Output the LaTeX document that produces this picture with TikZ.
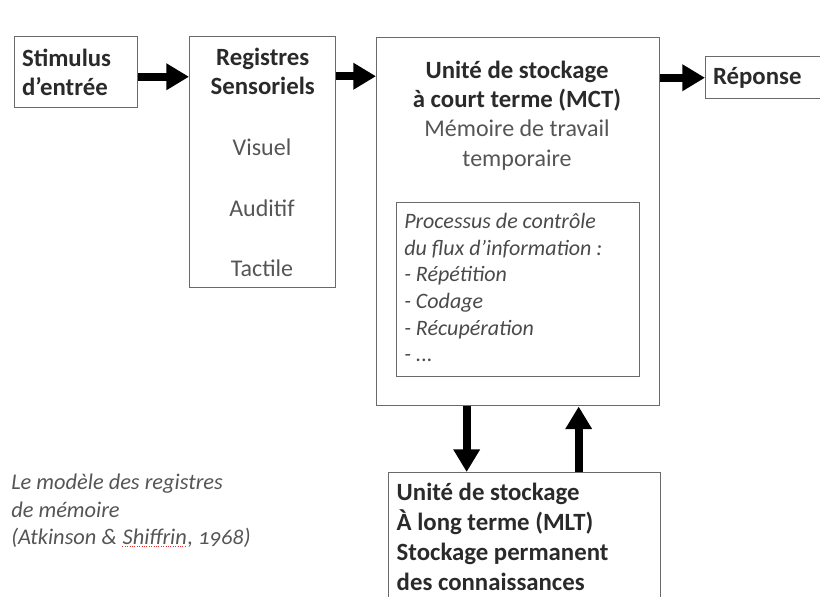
\documentclass[tikz,border=0pt]{standalone}
\usepackage{fontspec}
\setmainfont{Carlito}
\usetikzlibrary{arrows.meta,positioning}
\definecolor{ink}{HTML}{2A2A2A}
\definecolor{soft}{HTML}{555555}
\definecolor{boxgray}{HTML}{6A6A6A}
\definecolor{spell}{HTML}{E03030}
\newcommand{\squiggle}[1]{\tikz[baseline=(w.base)]{\node[inner sep=0pt] (w) {#1}; \draw[draw=spell, densely dotted, line width=0.8pt] ([yshift=-1.5pt]w.south west) -- ([yshift=-1.5pt]w.south east);}}

\tikzset{
  box/.style={draw=boxgray, line width=1.1pt, inner sep=0pt, anchor=north west},
  head/.style={font=\bfseries\fontsize{18.6}{22}\selectfont, text=ink, align=center},
  plain/.style={font=\fontsize{18}{22.5}\selectfont, text=soft, align=center},
  ital/.style={font=\itshape\fontsize{16.5}{20}\selectfont, text=ink!85, align=flush left, inner sep=0pt},
  flow/.style={line width=6pt, -{Triangle[length=17pt,width=19pt]}},
}

\begin{document}
\begin{tikzpicture}[x=0.75pt,y=-0.75pt]
  \clip (0,0) rectangle (820,596);
  % boites
  \node[box, head, align=flush left, text width=81pt, inner xsep=5.5pt, minimum height=53.25pt] (stim) at (14,36) {Stimulus\\d'entrée};
  \node[box, minimum width=109.5pt, minimum height=188.25pt] (reg) at (189,36) {};
  \node[head, anchor=north] (regt) at ([yshift=-5.5pt]reg.north) {Registres\\Sensoriels};
  \foreach \s/\y in {Visuel/147, Auditif/208, Tactile/268}
    \node[plain] (\s) at (262,\y) {\s};
  \node[box, minimum width=212.25pt, minimum height=276pt] (mct) at (376,37) {};
  \node[head] (mctt) at (517,86) {Unité de stockage\\à court terme (MCT)};
  \node[plain] (mctr) at (517,145) {Mémoire de travail\\temporaire};
  \node[box, minimum width=182.25pt, minimum height=130.5pt] (proc) at (396,202) {};
  \node[ital, anchor=north west] (proct) at (404,213) {Processus de contrôle\\du flux d'information :\\- Répétition\\- Codage\\- Récupération\\- ...};
  \node[box, head, align=flush left, text width=86pt, inner xsep=5.5pt, minimum height=31.5pt] (rep) at (705,56) {Réponse};
  \node[box, head, align=flush left, text width=192pt, inner xsep=6pt, minimum height=96pt, font=\bfseries\fontsize{18.6}{22.5}\selectfont] (mlt) at (388,472) {Unité de stockage\\À long terme (MLT)\\Stockage permanent\\des connaissances};
  \node[font=\itshape\fontsize{16.8}{20.5}\selectfont, text=soft, align=flush left, anchor=north west, inner sep=0pt] (legende) at (11,474) {Le modèle des registres\\de mémoire\\(Atkinson \& \squiggle{Shiffrin}, {\addfontfeatures{Numbers=OldStyle}1968})};
  % fleches
  \coordinate (dn) at ([xshift=68pt]mct.south west);
  \coordinate (up) at ([xshift=152pt]mct.south west);
  \draw[flow] ([yshift=-3.4pt]stim.east) -- ([yshift=-3.4pt]stim.east -| reg.west);
  \draw[flow] ([yshift=-3pt]stim.east -| reg.east) -- ([yshift=-3pt]stim.east -| mct.west);
  \draw[flow] (rep.west -| mct.east) -- (rep.west);
  \draw[flow] (dn) -- (dn |- mlt.north);
  \draw[flow] (up |- mlt.north) -- (up);
\end{tikzpicture}
\end{document}
